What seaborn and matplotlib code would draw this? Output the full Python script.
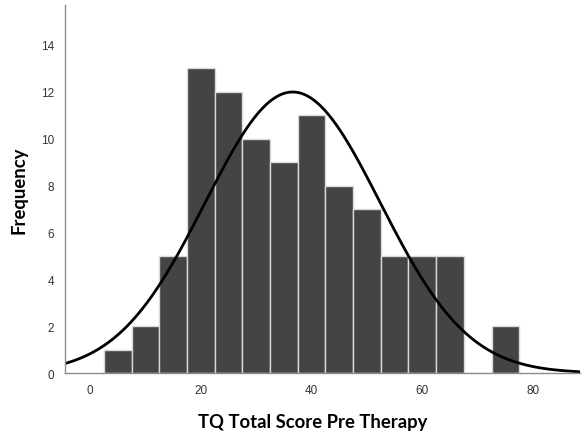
import numpy as np
import pandas as pd
import matplotlib
matplotlib.use("Agg")
import matplotlib.pyplot as plt
import seaborn as sns

# Histogram of TQ total score before therapy (bin width 5)
bin_centers = [5, 10, 15, 20, 25, 30, 35, 40, 45, 50, 55, 60, 65, 70, 75]
counts = [1, 2, 5, 13, 12, 10, 9, 11, 8, 7, 5, 5, 5, 0, 2]
bin_width = 5
score_mean = 36.6
score_sd = 15.8
x_ticks = [0, 20, 40, 60, 80]
y_ticks = [0, 2, 4, 6, 8, 10, 12, 14]

df = pd.DataFrame({"score": bin_centers, "count": counts})
n_total = sum(counts)

sns.set_style("white")
plt.rcParams["font.family"] = ["Liberation Sans", "DejaVu Sans"]

fig = plt.figure(figsize=(5.86, 4.39), dpi=100)
ax = fig.add_axes([0.111, 0.148, 0.879, 0.838])

lo = bin_centers[0] - bin_width / 2
hi = bin_centers[-1] + bin_width / 2
sns.histplot(data=df, x="score", weights="count", binwidth=bin_width,
             binrange=(lo, hi), ax=ax,
             color="#444446", alpha=1.0, edgecolor="#d9d9d9", linewidth=1.0)

# Fitted normal curve scaled to counts
xs = np.linspace(-5, 88.5, 400)
pdf = np.exp(-0.5 * ((xs - score_mean) / score_sd) ** 2) / (score_sd * np.sqrt(2 * np.pi))
sns.lineplot(x=xs, y=pdf * n_total * bin_width, ax=ax, color="black", linewidth=2.0)

ax.set_xlim(-4.5, 88.5)
ax.set_ylim(0, 15.7)
ax.set_xticks(x_ticks)
ax.set_yticks(y_ticks)
ax.tick_params(axis="both", length=0, labelsize=8.5, colors="#333333", pad=8)
for lbl in ax.get_xticklabels() + ax.get_yticklabels():
    lbl.set_family(["Liberation Sans", "DejaVu Sans"])

for side in ["top", "right"]:
    ax.spines[side].set_visible(False)
for side in ["left", "bottom"]:
    ax.spines[side].set_color("#8c8c8c")
    ax.spines[side].set_linewidth(1.0)

ax.set_xlabel("TQ Total Score Pre Therapy", fontsize=13.3, fontweight="bold",
              family=["Lato", "DejaVu Sans"], color="black")
ax.set_ylabel("Frequency", fontsize=13.3, fontweight="bold",
              family=["Lato", "DejaVu Sans"], color="black")
ax.xaxis.set_label_coords(0.48, -0.11)
ax.yaxis.set_label_coords(-0.072, 0.5)

fig.savefig("out.png", dpi=100, facecolor="white")
